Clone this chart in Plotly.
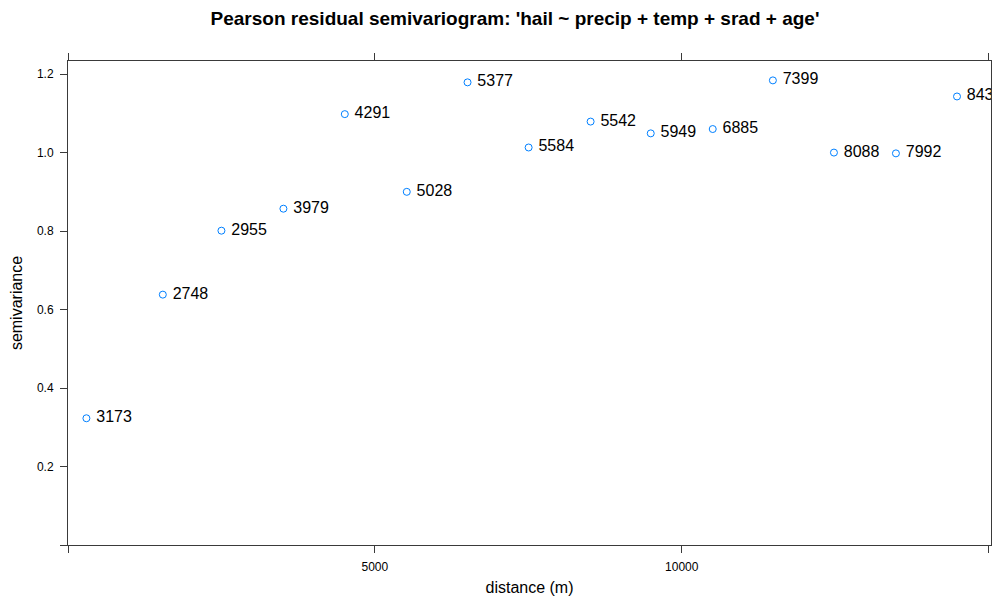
import plotly.graph_objects as go

# Binned empirical semivariogram of Pearson residuals
distance = [300, 1545, 2500, 3510, 4510, 5520, 6510, 7505, 8515, 9495, 10505, 11485, 12480, 13490, 14485]
gamma = [0.323, 0.638, 0.801, 0.857, 1.098, 0.900, 1.179, 1.013, 1.079, 1.049, 1.060, 1.184, 1.000, 0.998, 1.143]
npairs = [3173, 2748, 2955, 3979, 4291, 5028, 5377, 5584, 5542, 5949, 6885, 7399, 8088, 7992, 8437]

x_ticks = [0, 5000, 10000, 15000]
x_ticktext = ["", "5000", "10000", ""]
y_ticks = [0, 0.2, 0.4, 0.6, 0.8, 1.0, 1.2]
y_ticktext = ["", "0.2", "0.4", "0.6", "0.8", "1.0", "1.2"]

font_family = "Liberation Sans, Arial, Helvetica, sans-serif"
axis_color = "#3a3a3a"

fig = go.Figure(
    go.Scatter(
        x=distance,
        y=gamma,
        mode="markers+text",
        text=[" " + str(n) for n in npairs],
        textposition="middle right",
        textfont=dict(family=font_family, size=16, color="#000000"),
        marker=dict(symbol="circle-open", size=7, color="#0080ff",
                    line=dict(width=1, color="#0080ff")),
        cliponaxis=True,
        showlegend=False,
    )
)

common_axis = dict(
    showline=True,
    linecolor=axis_color,
    linewidth=1,
    mirror="ticks",
    ticks="outside",
    ticklen=7,
    tickwidth=1,
    tickcolor=axis_color,
    showgrid=False,
    zeroline=False,
    automargin=False,
    tickfont=dict(family=font_family, size=12, color="#000000"),
)

fig.update_xaxes(
    range=[0, 15039],
    tickmode="array",
    tickvals=x_ticks,
    ticktext=x_ticktext,
    ticklabelstandoff=4,
    title=dict(text="distance (m)", font=dict(family=font_family, size=16, color="#000000"), standoff=8),
    **common_axis,
)
fig.update_yaxes(
    range=[0, 1.2334],
    tickmode="array",
    tickvals=y_ticks,
    ticktext=y_ticktext,
    ticklabelstandoff=4,
    title=dict(text="semivariance", font=dict(family=font_family, size=16, color="#000000"), standoff=10),
    **common_axis,
)

fig.update_layout(
    width=992,
    height=603,
    margin=dict(l=68, r=1, t=61, b=58),
    paper_bgcolor="#ffffff",
    plot_bgcolor="#ffffff",
    title=dict(
        text="<b>Pearson residual semivariogram: 'hail ~ precip + temp + srad + age'</b>",
        font=dict(family=font_family, size=19, color="#000000"),
        xref="container",
        x=515 / 992,
        xanchor="center",
        yref="container",
        y=1 - 18 / 603,
        yanchor="middle",
    ),
)

fig.write_html("out.html")
